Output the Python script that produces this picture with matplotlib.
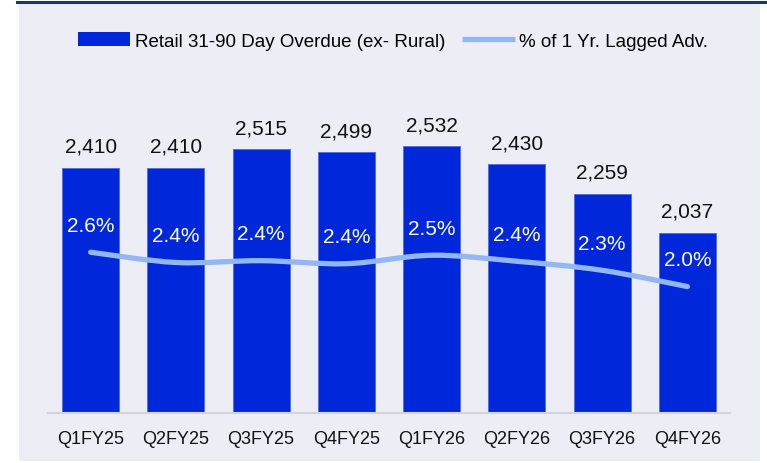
import matplotlib
matplotlib.use("Agg")
import matplotlib.pyplot as plt
from matplotlib.path import Path
from matplotlib.patches import PathPatch, Rectangle
from matplotlib.lines import Line2D
import numpy as np

plt.rcParams['font.family'] = ['Liberation Sans', 'DejaVu Sans']

categories = ["Q1FY25", "Q2FY25", "Q3FY25", "Q4FY25", "Q1FY26", "Q2FY26", "Q3FY26", "Q4FY26"]
overdue = [2410, 2410, 2515, 2499, 2532, 2430, 2259, 2037]
pct_lagged = [2.57, 2.40, 2.43, 2.38, 2.52, 2.42, 2.27, 2.00]

bar_label = "Retail 31-90 Day Overdue (ex- Rural)"
line_label = "% of 1 Yr. Lagged Adv."

BAR_C = "#0028DA"
LINE_C = "#93B6F5"
BG = "#EDEEF5"

W, H = 767, 464
fig = plt.figure(figsize=(W / 100, H / 100), dpi=100)
fig.patch.set_facecolor("white")

# background panel and top rule
fig.add_artist(Rectangle((19 / W, 1 - 462 / H), (760 - 19) / W, (462 - 5) / H,
                         transform=fig.transFigure, facecolor=BG, edgecolor="none", zorder=-10))
fig.add_artist(Line2D([17 / W, 1.0], [1 - 3 / H, 1 - 3 / H], transform=fig.transFigure,
                      color="#1F3468", linewidth=2.2, zorder=5))

left, right, bottom, top = 48 / W, 730 / W, 1 - 414 / H, 1 - 66 / H
ax = fig.add_axes([left, bottom, right - left, top - bottom])
ax.set_facecolor("none")
x = np.arange(len(categories))
bars = ax.bar(x, overdue, width=0.667, color=BAR_C, edgecolor="#4F6BE8", linewidth=0.6,
              label=bar_label, zorder=2)
ax.set_xlim(-0.5, len(categories) - 0.5)
ax.set_ylim(1000, 3000)
for s in ["top", "right", "left"]:
    ax.spines[s].set_visible(False)
ax.spines["bottom"].set_color("#D3D4DA")
ax.spines["bottom"].set_linewidth(1.5)
ax.set_yticks([])
ax.set_xticks(x)
ax.set_xticklabels(categories, fontsize=13, color="#111111")
ax.tick_params(axis="x", length=0, pad=12)

for xi, v in zip(x, overdue):
    ax.annotate(f"{v:,}", (xi, v), xytext=(0, 11.5), textcoords="offset points",
                ha="center", va="baseline", fontsize=15, color="#111111")

ax2 = ax.twinx()
ax2.set_ylim(-0.1, 5.68)
ax2.axis("off")

# smooth (Excel-style) curve via cubic Bezier segments through the data points
pts = np.column_stack([x, pct_lagged]).astype(float)
verts = [tuple(pts[0])]
codes = [Path.MOVETO]
n = len(pts)
for i in range(n - 1):
    p0 = pts[i - 1] if i > 0 else pts[i]
    p1 = pts[i]
    p2 = pts[i + 1]
    p3 = pts[i + 2] if i + 2 < n else pts[i + 1]
    c1 = p1 + (p2 - p0) / 6.0
    c2 = p2 - (p3 - p1) / 6.0
    verts += [tuple(c1), tuple(c2), tuple(p2)]
    codes += [Path.CURVE4] * 3
patch = PathPatch(Path(verts, codes), facecolor="none", edgecolor=LINE_C, linewidth=3.8,
                  capstyle="round", joinstyle="round", zorder=3)
ax2.add_patch(patch)

for xi, p in zip(x, pct_lagged):
    ax2.annotate(f"{p:.1f}%", (xi, p), xytext=(0, 15.5), textcoords="offset points",
                 ha="center", va="baseline", fontsize=15, color="white", zorder=4)

handles = [Rectangle((0, 0), 1, 1, facecolor=BAR_C, edgecolor="none"),
           Line2D([], [], color=LINE_C, linewidth=3.8, solid_capstyle="butt")]
fig.legend(handles, [bar_label, line_label], loc="center", bbox_to_anchor=(393 / W, 1 - 42 / H),
           ncol=2, frameon=False, fontsize=13.5, handlelength=2.8, handletextpad=0.25,
           columnspacing=0.9, handleheight=0.7)

fig.savefig("out.png", dpi=100, facecolor=fig.get_facecolor())
